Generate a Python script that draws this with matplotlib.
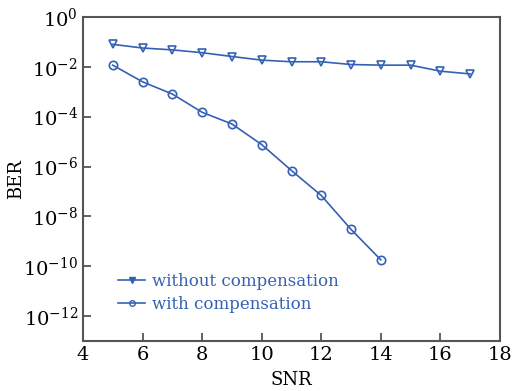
import math
import matplotlib
matplotlib.use("Agg")
import matplotlib.pyplot as plt
from matplotlib.lines import Line2D

plt.rcParams["font.family"] = ["DejaVu Serif"]
plt.rcParams["mathtext.fontset"] = "dejavuserif"

# Data
snr_without = [5, 6, 7, 8, 9, 10, 11, 12, 13, 14, 15, 16, 17]
ber_without = [0.08, 0.057, 0.048, 0.037, 0.026, 0.0186, 0.016, 0.016,
               0.0124, 0.0117, 0.0117, 0.0067, 0.0052]
snr_with = [5, 6, 7, 8, 9, 10, 11, 12, 13, 14]
ber_with = [0.0117, 0.0025, 8.1e-4, 1.5e-4, 5.1e-5, 7.6e-6, 6.9e-7,
            6.9e-8, 3e-9, 1.8e-10]

x_ticks = [4, 6, 8, 10, 12, 14, 16, 18]
y_ticks = [1e0, 1e-2, 1e-4, 1e-6, 1e-8, 1e-10, 1e-12]

BLUE = "#3561b5"
SPINE = "#555555"

fig = plt.figure(figsize=(5.15, 3.91), dpi=100)
ax = fig.add_axes([83 / 515, 1 - 341 / 391, 417 / 515, 324 / 391])

ax.plot(snr_without, ber_without, color=BLUE, linewidth=1.2, marker="v",
        markersize=6, markerfacecolor="none", markeredgewidth=1.2)
ax.plot(snr_with, ber_with, color=BLUE, linewidth=1.2, marker="o",
        markersize=6, markerfacecolor="none", markeredgewidth=1.2)

ax.set_yscale("log")
ax.set_xlim(4, 18)
ax.set_ylim(1e-13, 1)
ax.set_xticks(x_ticks)
ax.set_xticklabels([str(t) for t in x_ticks])
ax.set_yticks(y_ticks)
ax.set_yticklabels([r"$10^{%d}$" % round(math.log10(t)) for t in y_ticks])
ax.minorticks_off()
ax.tick_params(direction="in", length=6, width=1.3, color=SPINE,
               labelsize=14, top=False, right=False)
for sp in ax.spines.values():
    sp.set_color(SPINE)
    sp.set_linewidth(1.5)

ax.set_xlabel("SNR", fontsize=13, labelpad=5)
ax.set_ylabel("BER", fontsize=13, labelpad=-1)

handles = [
    Line2D([], [], color=BLUE, linewidth=1.2, marker="v", markersize=4),
    Line2D([], [], color=BLUE, linewidth=1.2, marker="o", markersize=4,
           markerfacecolor="none"),
]
leg = ax.legend(handles, ["without compensation", "with compensation"],
                loc="lower left", bbox_to_anchor=(0.065, 0.06), frameon=False,
                fontsize=12, handlelength=1.6, handletextpad=0.4,
                labelspacing=0.4, borderpad=0)
for t in leg.get_texts():
    t.set_color(BLUE)

fig.savefig("out.png", dpi=100, facecolor="white")
